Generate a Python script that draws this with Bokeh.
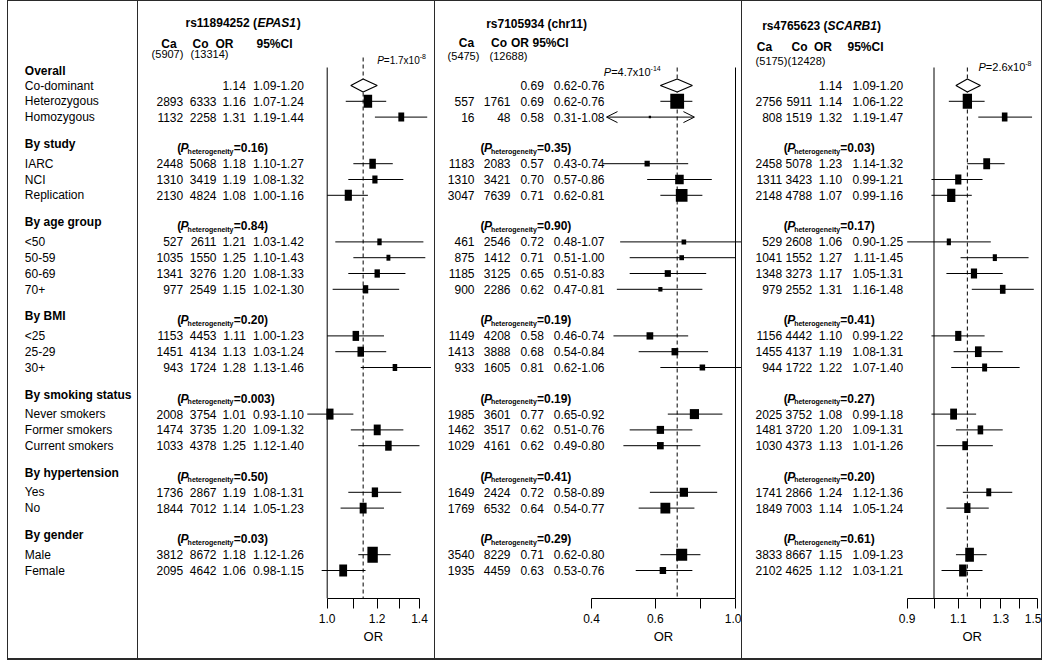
import math
from bokeh.plotting import figure
from bokeh.models import (Range1d, LinearScale, LogScale, LinearAxis, FixedTicker,
                          NumeralTickFormatter, Arrow, OpenHead, Title)
from bokeh.layouts import row
from bokeh.core.properties import value
from bokeh.embed import file_html
from bokeh.resources import INLINE

FONT = "Liberation Sans"

# ---------------------------------------------------------------- data
groups = ["Overall", "By study", "By age group", "By BMI",
          "By smoking status", "By hypertension", "By gender"]
group_sizes = [3, 3, 4, 3, 3, 2, 2]
row_labels = ["Co-dominant", "Heterozygous", "Homozygous",
              "IARC", "NCI", "Replication",
              "<50", "50-59", "60-69", "70+",
              "<25", "25-29", "30+",
              "Never smokers", "Former smokers", "Current smokers",
              "Yes", "No",
              "Male", "Female"]

snp_titles = [("rs11894252 (", "EPAS1", ")"), ("rs7105934 (chr11)", "", ""), ("rs4765623 (", "SCARB1", ")")]
ca_total = ["(5907)", "(5475)", "(5175)"]
co_total = ["(13314)", "(12688)", "(12428)"]
p_mant = ["1.7", "4.7", "2.6"]
p_exp = ["-8", "-14", "-8"]

# rs11894252 (EPAS1)
ca1 = ["", 2893, 1132, 2448, 1310, 2130, 527, 1035, 1341, 977, 1153, 1451, 943, 2008, 1474, 1033, 1736, 1844, 3812, 2095]
co1 = ["", 6333, 2258, 5068, 3419, 4824, 2611, 1550, 3276, 2549, 4453, 4134, 1724, 3754, 3735, 4378, 2867, 7012, 8672, 4642]
or1 = [1.14, 1.16, 1.31, 1.18, 1.19, 1.08, 1.21, 1.25, 1.20, 1.15, 1.11, 1.13, 1.28, 1.01, 1.20, 1.25, 1.19, 1.14, 1.18, 1.06]
lo1 = [1.09, 1.07, 1.19, 1.10, 1.08, 1.00, 1.03, 1.10, 1.08, 1.02, 1.00, 1.03, 1.13, 0.93, 1.09, 1.12, 1.08, 1.05, 1.12, 0.98]
hi1 = [1.20, 1.24, 1.44, 1.27, 1.32, 1.16, 1.42, 1.43, 1.33, 1.30, 1.23, 1.24, 1.46, 1.10, 1.32, 1.40, 1.31, 1.23, 1.26, 1.15]
wt1 = [0, 13, 9, 10, 8, 11, 6.7, 6, 8.3, 8.3, 10, 10, 7, 11, 10.7, 10, 9.7, 10.7, 16, 12]
phet1 = ["0.16", "0.84", "0.20", "0.003", "0.50", "0.03"]

# rs7105934 (chr11)
ca2 = ["", 557, 16, 1183, 1310, 3047, 461, 875, 1185, 900, 1149, 1413, 933, 1985, 1462, 1029, 1649, 1769, 3540, 1935]
co2 = ["", 1761, 48, 2083, 3421, 7639, 2546, 1412, 3125, 2286, 4208, 3888, 1605, 3601, 3517, 4161, 2424, 6532, 8229, 4459]
or2 = [0.69, 0.69, 0.58, 0.57, 0.70, 0.71, 0.72, 0.71, 0.65, 0.62, 0.58, 0.68, 0.81, 0.77, 0.62, 0.62, 0.72, 0.64, 0.71, 0.63]
lo2 = [0.62, 0.62, 0.31, 0.43, 0.57, 0.62, 0.48, 0.51, 0.51, 0.47, 0.46, 0.54, 0.62, 0.65, 0.51, 0.49, 0.58, 0.54, 0.62, 0.53]
hi2 = [0.76, 0.76, 1.08, 0.74, 0.86, 0.81, 1.07, 1.00, 0.83, 0.81, 0.74, 0.84, 1.06, 0.92, 0.76, 0.80, 0.89, 0.77, 0.80, 0.76]
wt2 = [0, 15, 2.5, 5.7, 9.3, 12.7, 5, 5, 6.7, 4.5, 7.3, 7.3, 6, 10, 8, 7.3, 9, 10.7, 12, 7]
phet2 = ["0.35", "0.90", "0.19", "0.19", "0.41", "0.29"]
trunc2 = {2: (0.44, 0.77)}   # CI drawn as arrows (truncated display)

# rs4765623 (SCARB1)
ca3 = ["", 2756, 808, 2458, 1311, 2148, 529, 1041, 1348, 979, 1156, 1455, 944, 2025, 1481, 1030, 1741, 1849, 3833, 2102]
co3 = ["", 5911, 1519, 5078, 3423, 4788, 2608, 1552, 3273, 2552, 4442, 4137, 1722, 3752, 3720, 4373, 2866, 7003, 8667, 4625]
or3 = [1.14, 1.14, 1.32, 1.23, 1.10, 1.07, 1.06, 1.27, 1.17, 1.31, 1.10, 1.19, 1.22, 1.08, 1.20, 1.13, 1.24, 1.14, 1.15, 1.12]
lo3 = [1.09, 1.06, 1.19, 1.14, 0.99, 0.99, 0.90, 1.11, 1.05, 1.16, 0.99, 1.08, 1.07, 0.99, 1.09, 1.01, 1.12, 1.05, 1.09, 1.03]
hi3 = [1.20, 1.22, 1.47, 1.32, 1.21, 1.16, 1.25, 1.45, 1.31, 1.48, 1.22, 1.31, 1.40, 1.18, 1.31, 1.26, 1.36, 1.24, 1.23, 1.21]
wt3 = [0, 15, 9, 11, 10, 13.3, 6.7, 6.7, 10, 9, 10, 10.7, 8, 11, 9, 9, 8, 10, 14, 12]
phet3 = ["0.03", "0.17", "0.41", "0.27", "0.20", "0.61"]

axis_major = [[1.0, 1.2, 1.4], [0.4, 0.6, 1.0], [0.9, 1.1, 1.3, 1.5]]
axis_minor = [[1.1, 1.3], [0.8], [1.0, 1.2, 1.4]]
axis_title = "OR"

# ---------------------------------------------------------------- layout
TOP, AXIS_Y = 1, 598
TOP_H = AXIS_Y - TOP
BOT_H = 60
FIG_H = TOP_H + BOT_H
X0 = 7
F_W = [129, 296, 306, 299]
fx = []
_x = X0 + 1
for _w in F_W:
    fx.append((_x, _x + _w))
    _x += _w + 1

# rows
head_y, row_y = [], []
_y = 70.0
for gi, n in enumerate(group_sizes):
    if gi > 0:
        _y = row_y[-1] + 27.0
    head_y.append(_y)
    for k in range(n):
        if gi == 0:
            row_y.append(_y + 15.0 + k * 15.8)
        else:
            row_y.append(_y + 19.6 + k * 15.8)

AW = {'0': .556, '1': .556, '2': .556, '3': .556, '4': .556, '5': .556, '6': .556,
      '7': .556, '8': .556, '9': .556, '.': .278, '=': .584, 'x': .5, '-': .333, 'P': .667,
      'O': .778, 'R': .722}


def tw(s, size):
    return sum(AW.get(c, .556) for c in s) * size


def add_text(p, xs, ys, texts, size=12, style="normal", align="left", xr="px"):
    p.text(x=list(xs), y=list(ys), text=list(texts), text_font=value(FONT),
           text_font_size=f"{size}px", text_font_style=style, text_align=align,
           text_baseline="middle", text_color="black", x_range_name=xr)


def base_fig(px0, px1, xrange):
    p = figure(width=px1 - px0, height=FIG_H, output_backend="svg", toolbar_location=None,
               x_axis_type=None, y_axis_type=None, x_range=xrange,
               y_range=Range1d(AXIS_Y, TOP),
               min_border=0, min_border_left=0, min_border_right=0, min_border_top=0,
               min_border_bottom=BOT_H, styles={"background-color": "white"})
    p.outline_line_color = None
    p.background_fill_color = "white"
    p.border_fill_color = "white"
    return p


# ---------------------------------------------------------------- label column
f0 = base_fig(fx[0][0], fx[0][1], Range1d(fx[0][0], fx[0][1]))
add_text(f0, [24.3] * len(groups), head_y, groups, size=12, style="bold", xr="default")
add_text(f0, [24.3] * len(row_labels), row_y, row_labels, size=12, xr="default")

# ---------------------------------------------------------------- panels
panels = [
    dict(ca=ca1, co=co1, orr=or1, lo=lo1, hi=hi1, wt=wt1, phet=phet1, trunc={},
         anchors=((1.0, 326.7), (1.4, 419.0)), bounds=(1.0, 1.4),
         cols=(182.7, 216.0, 245.3, 303.3), heads=(168.5, 200, 224, 274), head_y=43.3,
         tots=(167, 209), tot_y=53.5, title_x=185.0, title_y=22.7, title_center=None,
         title_w=(72.0, 39.3), phx=176.7, pv=(376.7, 60.0, 10), dash_top=57, aspect=0.65),
    dict(ca=ca2, co=co2, orr=or2, lo=lo2, hi=hi2, wt=wt2, phet=phet2, trunc=trunc2,
         anchors=((0.4, 591.0), (1.0, 735.0)), bounds=(0.4, 1.0),
         cols=(474.0, 510.0, 543.3, 604.0), heads=(466, 498.5, 519.5, 550), head_y=42.7,
         tots=(463, 508), tot_y=55.0, title_x=None, title_y=23.3, title_center=536.0,
         title_w=None, phx=480.0, pv=(603.3, 71.7, 11), dash_top=67, aspect=0.92),
    dict(ca=ca3, co=co3, orr=or3, lo=lo3, hi=hi3, wt=wt3, phet=phet3, trunc={},
         anchors=((0.9, 906.7), (1.5, 1036.7)), bounds=(0.9, 1.5),
         cols=(781.7, 811.7, 841.7, 902.7), heads=(764, 799, 822.5, 865), head_y=46.7,
         tots=(771.0, 806.0), tot_y=60.0, title_x=761.7, title_y=25.0, title_center=None,
         title_w=(65.4, 49.3), phx=783.3, pv=(978.0, 66.7, 11), dash_top=67, aspect=0.62),
]

children = [f0]
for i, P in enumerate(panels):
    px0, px1 = fx[i + 1]
    (va, pa), (vb, pb) = P["anchors"]
    k = (pb - pa) / (math.log(vb) - math.log(va))

    def to_px(v):
        return pa + k * (math.log(v) - math.log(va))

    start = math.exp(math.log(va) + (px0 - pa) / k)
    end = math.exp(math.log(va) + (px1 - pa) / k)
    p = base_fig(px0, px1, Range1d(start, end))
    p.x_scale = LogScale()
    p.extra_x_ranges = {"px": Range1d(px0, px1)}
    p.extra_x_scales = {"px": LinearScale()}

    # title
    t = snp_titles[i]
    if P["title_center"] is not None:
        add_text(p, [P["title_center"]], [P["title_y"]], [t[0]], style="bold", align="center")
    else:
        x0 = P["title_x"]
        w0, w1 = P["title_w"]
        add_text(p, [x0, x0 + w0 + w1], [P["title_y"]] * 2, [t[0], t[2]], style="bold")
        add_text(p, [x0 + w0], [P["title_y"]], [t[1]], style="bold italic")

    # column headers
    add_text(p, P["heads"], [P["head_y"]] * 4, ["Ca", "Co", "OR", "95%CI"], style="bold", align="center")
    add_text(p, P["tots"], [P["tot_y"]] * 2, [ca_total[i], co_total[i]], size=11, align="center")

    # table values
    cr = P["cols"]
    xs, ys, ts = [], [], []
    for r in range(len(row_labels)):
        y = row_y[r]
        if P["ca"][r] != "":
            xs += [cr[0], cr[1]]
            ys += [y, y]
            ts += [str(P["ca"][r]), str(P["co"][r])]
        xs += [cr[2], cr[3]]
        ys += [y, y]
        ts += [f"{P['orr'][r]:.2f}", f"{P['lo'][r]:.2f}-{P['hi'][r]:.2f}"]
    add_text(p, xs, ys, ts, size=12, align="right")

    # P heterogeneity labels
    x0 = P["phx"]
    hy = [head_y[g] + 4 for g in range(1, len(groups))]
    n = len(hy)
    add_text(p, [x0] * n, hy, ["("] * n, style="bold")
    add_text(p, [x0 + 3.4] * n, hy, ["P"] * n, style="bold italic")
    add_text(p, [x0 + 10.4] * n, [h + 3 for h in hy], ["heterogeneity"] * n, size=7, style="bold")
    add_text(p, [x0 + 56.5] * n, hy, [f"={v})" for v in P["phet"]], style="bold")

    # overall P value
    pvx, pvy, pvs = P["pv"]
    body = "=" + p_mant[i] + "x10"
    add_text(p, [pvx], [pvy], ["P"], size=pvs, style="italic")
    add_text(p, [pvx + tw("P", pvs)], [pvy], [body], size=pvs)
    add_text(p, [pvx + tw("P", pvs) + tw(body, pvs)], [pvy - 4], [p_exp[i]], size=7)

    # reference lines
    p.segment(x0=[1.0], y0=[67], x1=[1.0], y1=[AXIS_Y], line_color="black", line_width=1)
    p.segment(x0=[P["orr"][0]], y0=[P["dash_top"]], x1=[P["orr"][0]], y1=[AXIS_Y],
              line_color="black", line_width=1, line_dash="4 3")

    # CI lines + boxes
    idx = [r for r in range(1, len(row_labels)) if r not in P["trunc"]]
    p.segment(x0=[P["lo"][r] for r in idx], y0=[row_y[r] for r in idx],
              x1=[P["hi"][r] for r in idx], y1=[row_y[r] for r in idx],
              line_color="black", line_width=1)
    for r, (a, b) in P["trunc"].items():
        for endv in (a, b):
            p.add_layout(Arrow(x_start=P["orr"][r], y_start=row_y[r], x_end=endv, y_end=row_y[r],
                               line_color="black", line_width=1,
                               end=OpenHead(size=11, line_color="black", line_width=1)))
    allr = list(range(1, len(row_labels)))
    p.rect(x=[P["orr"][r] for r in allr], y=[row_y[r] for r in allr],
           width=[P["wt"][r] * P["aspect"] for r in allr], height=[P["wt"][r] for r in allr],
           width_units="screen", height_units="screen", fill_color="black", line_color=None)

    # overall diamond
    y0 = row_y[0]
    p.patch(x=[P["lo"][0], P["orr"][0], P["hi"][0], P["orr"][0]],
            y=[y0, y0 - 6.5, y0, y0 + 6.5], fill_color="white", line_color="black", line_width=1.2)

    # axis restricted to its bounds
    lo_b, hi_b = P["bounds"]
    ax = LinearAxis(ticker=FixedTicker(ticks=axis_major[i], minor_ticks=axis_minor[i]),
                    formatter=NumeralTickFormatter(format="0.0"), bounds=(lo_b, hi_b))
    ax.axis_line_color = "black"
    ax.major_tick_line_color = "black"
    ax.minor_tick_line_color = "black"
    ax.major_tick_out = 10
    ax.major_tick_in = 0
    ax.minor_tick_out = 10
    ax.minor_tick_in = 0
    ax.major_label_text_font = FONT
    ax.major_label_text_font_size = "12px"
    ax.major_label_text_color = "black"
    ax.major_label_standoff = 5
    p.add_layout(ax, "below")

    # "OR" centred under the bounded axis
    mid = 0.5 * (to_px(lo_b) + to_px(hi_b))
    p.add_layout(Title(text=axis_title, align="left", offset=mid - px0 - tw(axis_title, 13) / 2,
                       text_font=FONT, text_font_size="13px", text_font_style="normal",
                       text_color="black", standoff=2), "below")

    children.append(p)

root = row(*children, spacing=1,
           styles={"background-color": "#2a2a2a", "padding": "1px 1px 2px 1px", "margin-left": f"{X0}px"})

open("out.html", "w").write(file_html(root, INLINE, title="Forest plot"))
